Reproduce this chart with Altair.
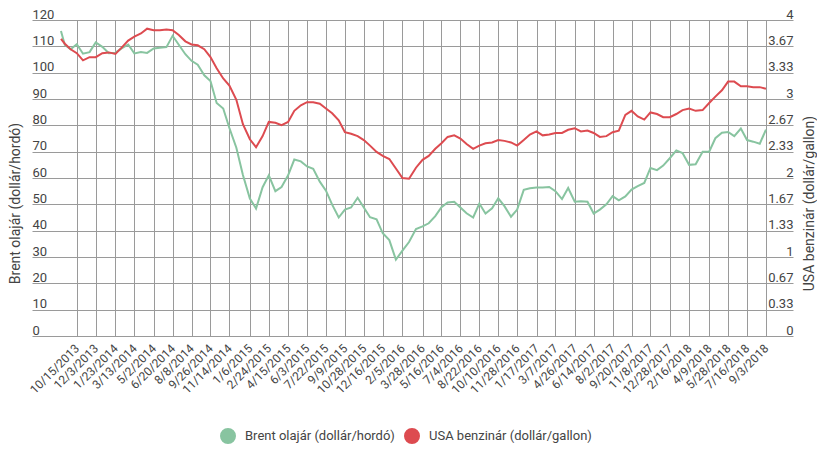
import altair as alt
import pandas as pd

BRENT = "Brent olajár (dollár/hordó)"
GAS = "USA benzinár (dollár/gallon)"

tick_labels = [
    "10/15/2013", "12/3/2013", "1/23/2014", "3/13/2014", "5/2/2014", "6/20/2014",
    "8/8/2014", "9/26/2014", "11/14/2014", "1/6/2015", "2/24/2015", "4/15/2015",
    "6/3/2015", "7/22/2015", "9/9/2015", "10/28/2015", "12/16/2015", "2/5/2016",
    "3/28/2016", "5/16/2016", "7/4/2016", "8/22/2016", "10/10/2016", "11/28/2016",
    "1/17/2017", "3/7/2017", "4/26/2017", "6/14/2017", "8/2/2017", "9/20/2017",
    "11/8/2017", "12/28/2017", "2/16/2018", "4/9/2018", "5/28/2018", "7/16/2018",
    "9/3/2018",
]

dates = [
    "2013-09-04", "2013-09-14", "2013-09-29",
    "2013-10-15", "2013-10-31", "2013-11-17",
    "2013-12-03", "2013-12-20", "2014-01-06",
    "2014-01-23", "2014-02-08", "2014-02-25",
    "2014-03-13", "2014-03-30", "2014-04-15",
    "2014-05-02", "2014-05-18", "2014-06-04",
    "2014-06-20", "2014-07-06", "2014-07-23",
    "2014-08-08", "2014-08-24", "2014-09-10",
    "2014-09-26", "2014-10-12", "2014-10-29",
    "2014-11-14", "2014-12-02", "2014-12-19",
    "2015-01-06", "2015-01-22", "2015-02-08",
    "2015-02-24", "2015-03-13", "2015-03-29",
    "2015-04-15", "2015-05-01", "2015-05-18",
    "2015-06-03", "2015-06-19", "2015-07-06",
    "2015-07-22", "2015-08-07", "2015-08-24",
    "2015-09-09", "2015-09-25", "2015-10-12",
    "2015-10-28", "2015-11-13", "2015-11-30",
    "2015-12-16", "2016-01-02", "2016-01-19",
    "2016-02-05", "2016-02-22", "2016-03-11",
    "2016-03-28", "2016-04-13", "2016-04-30",
    "2016-05-16", "2016-06-01", "2016-06-18",
    "2016-07-04", "2016-07-20", "2016-08-06",
    "2016-08-22", "2016-09-07", "2016-09-24",
    "2016-10-10", "2016-10-26", "2016-11-12",
    "2016-11-28", "2016-12-15", "2016-12-31",
    "2017-01-17", "2017-02-02", "2017-02-19",
    "2017-03-07", "2017-03-24", "2017-04-09",
    "2017-04-26", "2017-05-12", "2017-05-29",
    "2017-06-14", "2017-06-30", "2017-07-17",
    "2017-08-02", "2017-08-18", "2017-09-04",
    "2017-09-20", "2017-10-06", "2017-10-23",
    "2017-11-08", "2017-11-25", "2017-12-11",
    "2017-12-28", "2018-01-14", "2018-01-30",
    "2018-02-16", "2018-03-05", "2018-03-23",
    "2018-04-09", "2018-04-25", "2018-05-12",
    "2018-05-28", "2018-06-13", "2018-06-30",
    "2018-07-16", "2018-08-01", "2018-08-18",
    "2018-09-03",
]

brent = [
    115.8, 110.5, 108.9,
    110.8, 107.2, 107.8,
    111.5, 109.8, 107.4,
    107.6, 109.2, 110.7,
    107.3, 107.8, 107.5,
    109.2, 109.5, 109.7,
    114.0, 110.6, 107.0,
    104.5, 103.0, 99.0,
    96.8, 88.5, 86.4,
    79.0, 71.5, 61.1,
    52.2, 48.4, 56.5,
    61.0, 55.0, 56.6,
    61.0, 67.0, 66.3,
    64.4, 63.5, 58.6,
    55.2, 49.9, 45.0,
    48.0, 48.8, 52.5,
    48.8, 45.1, 44.3,
    39.0, 36.4, 29.0,
    32.4, 35.7, 40.6,
    41.6, 42.8, 45.5,
    48.9, 50.7, 51.0,
    48.8, 46.6, 45.0,
    50.3, 46.5, 48.5,
    52.3, 49.3, 45.3,
    48.0, 55.5, 56.1,
    56.4, 56.4, 56.6,
    55.0, 52.0, 56.2,
    51.0, 51.2, 51.0,
    46.5, 48.0, 50.0,
    53.1, 51.5, 53.0,
    55.6, 56.9, 58.1,
    63.8, 63.0, 64.7,
    67.5, 70.5, 69.5,
    65.0, 65.2, 70.0,
    70.0, 75.1, 77.2,
    77.5, 75.9, 78.8,
    74.4, 73.8, 73.0,
    78.4,
]

gasoline = [
    3.76, 3.70, 3.63,
    3.58, 3.49, 3.53,
    3.53, 3.58, 3.59,
    3.57, 3.65, 3.74,
    3.79, 3.83, 3.89,
    3.87, 3.87, 3.88,
    3.87, 3.81, 3.73,
    3.69, 3.68, 3.63,
    3.53, 3.39, 3.26,
    3.17, 2.99, 2.68,
    2.49, 2.39, 2.53,
    2.71, 2.70, 2.67,
    2.71, 2.85, 2.92,
    2.96, 2.96, 2.94,
    2.88, 2.82, 2.73,
    2.58, 2.56, 2.53,
    2.48, 2.41, 2.33,
    2.28, 2.24, 2.12,
    2.00, 1.99, 2.13,
    2.23, 2.28, 2.37,
    2.44, 2.52, 2.54,
    2.50, 2.43, 2.37,
    2.41, 2.44, 2.45,
    2.48, 2.47, 2.45,
    2.41, 2.48, 2.55,
    2.59, 2.54, 2.55,
    2.57, 2.57, 2.61,
    2.63, 2.59, 2.60,
    2.57, 2.52, 2.53,
    2.58, 2.60, 2.80,
    2.85, 2.78, 2.74,
    2.83, 2.81, 2.77,
    2.77, 2.81, 2.86,
    2.88, 2.85, 2.86,
    2.95, 3.03, 3.11,
    3.22, 3.22, 3.16,
    3.16, 3.15, 3.15,
    3.13,
]

GREEN = "#88c4a0"
RED = "#dd4b50"
GRID = "#9a9a9a"
TEXT = "#444444"

df_b = pd.DataFrame({"date": dates, "value": brent, "series": BRENT})
df_g = pd.DataFrame({"date": dates, "value": gasoline, "series": GAS})

tick_ms = [int(v) for v in (pd.to_datetime(tick_labels, format="%m/%d/%Y").astype("int64") // 10**6)]
x_domain = [int(pd.Timestamp("2013-06-21").value // 10**6), int(pd.Timestamp("2018-11-12").value // 10**6)]
gas_ticks = [i / 3 for i in range(13)]

x_enc = alt.X(
    "date:T",
    scale=alt.Scale(type="utc", domain=x_domain),
    axis=alt.Axis(
        values=tick_ms,
        labelExpr="utcFormat(datum.value, '%-m/%-d/%Y')",
        labelAngle=315,
        labelAlign="right",
        labelBaseline="middle",
        labelPadding=10,
        labelFontSize=12,
        labelColor=TEXT,
        labelOverlap=False,
        labelFlush=False,
        grid=True,
        gridColor=GRID,
        gridWidth=1,
        ticks=False,
        domain=False,
        title=None,
    ),
)

color_enc = alt.Color(
    "series:N",
    scale=alt.Scale(domain=[BRENT, GAS], range=[GREEN, RED]),
    legend=alt.Legend(
        orient="none",
        legendX=188,
        legendY=408,
        direction="horizontal",
        title=None,
        symbolType="circle",
        symbolSize=64,
        symbolStrokeWidth=8,
        labelFontSize=13,
        labelColor=TEXT,
        labelOffset=9,
        labelLimit=400,
        columnPadding=-3,
        padding=0,
    ),
)

brent_line = alt.Chart(df_b).mark_line(strokeWidth=2, interpolate="linear").encode(
    x=x_enc,
    y=alt.Y(
        "value:Q",
        scale=alt.Scale(domain=[0, 120], nice=False),
        axis=alt.Axis(
            values=list(range(0, 130, 10)),
            orient="left",
            grid=True,
            gridColor=GRID,
            ticks=False,
            domain=False,
            labelAlign="left",
            labelBaseline="alphabetic",
            labelPadding=0,
            labelOffset=-2,
            labelFontSize=13,
            labelColor=TEXT,
            title=BRENT,
            titleX=-17,
            titleY=183,
            titleAngle=270,
            titleAlign="center",
            titleBaseline="middle",
            titleFontSize=14,
            titleFontWeight="normal",
            titleColor=TEXT,
        ),
    ),
    color=color_enc,
)

gas_line = alt.Chart(df_g).mark_line(strokeWidth=2, interpolate="linear").encode(
    x=x_enc,
    y=alt.Y(
        "value:Q",
        scale=alt.Scale(domain=[0, 4], nice=False),
        axis=alt.Axis(
            values=gas_ticks,
            orient="right",
            labelExpr="format(datum.value, '.2~f')",
            grid=False,
            ticks=False,
            domain=False,
            labelAlign="right",
            labelBaseline="alphabetic",
            labelPadding=0,
            labelOffset=-2,
            labelFontSize=13,
            labelColor=TEXT,
            title=GAS,
            titleX=16,
            titleY=183,
            titleAngle=270,
            titleAlign="center",
            titleBaseline="middle",
            titleFontSize=14,
            titleFontWeight="normal",
            titleColor=TEXT,
        ),
    ),
    color=color_enc,
)

chart = (
    alt.layer(brent_line, gas_line)
    .resolve_scale(y="independent")
    .properties(
        width=761,
        height=316,
        autosize=alt.AutoSizeParams(type="none"),
        padding={"left": 24, "top": 12, "right": 24, "bottom": 112},
        background="white",
    )
    .configure(font="Roboto")
    .configure_view(stroke=None)
)

chart.save("out.html", embed_options={"renderer": "svg", "actions": False})
